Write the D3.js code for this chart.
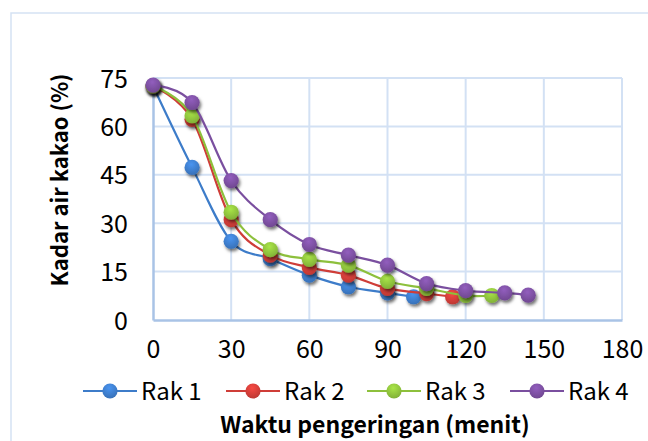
<!DOCTYPE html>
<html>
<head>
<meta charset="utf-8">
<script src="https://cdn.jsdelivr.net/npm/d3@7"></script>
<style>
  body { margin: 0; background: #fff; }
  text { font-family: "Noto Sans CJK JP", "Noto Sans", sans-serif; fill: #000; }
</style>
</head>
<body>
<div id="chart"></div>
<script>
// Drying time (menit) and moisture content (%) per rack
var seriesNames = ["Rak 1", "Rak 2", "Rak 3", "Rak 4"];
var seriesColors = ["#3d7cc9", "#cf3d38", "#8dc03c", "#7a4f9f"];
var timeRak1 = [0, 15, 30, 45, 60, 75, 90, 100];
var rak1 = [72.5, 47.3, 24.4, 19.0, 13.9, 10.3, 8.4, 7.2];
var timeRak2 = [0, 15, 30, 45, 60, 75, 90, 105, 115];
var rak2 = [72.5, 62.2, 31.1, 20.1, 16.3, 13.9, 9.8, 8.2, 7.2];
var timeRak3 = [0, 15, 30, 45, 60, 75, 90, 105, 120, 130];
var rak3 = [72.5, 63.3, 33.4, 21.8, 18.8, 17.0, 12.0, 9.8, 7.6, 7.6];
var timeRak4 = [0, 15, 30, 45, 60, 75, 90, 105, 120, 135, 144];
var rak4 = [72.8, 67.4, 43.2, 31.1, 23.4, 20.1, 17.0, 11.3, 9.1, 8.4, 7.7];
var xTicks = [0, 30, 60, 90, 120, 150, 180];
var yTicks = [0, 15, 30, 45, 60, 75];

var times = [timeRak1, timeRak2, timeRak3, timeRak4];
var values = [rak1, rak2, rak3, rak4];

var W = 648, H = 441;
var margin = {top: 78, right: 26, bottom: 121, left: 153},
    width = W - margin.left - margin.right,
    height = H - margin.top - margin.bottom;

var root = d3.select("#chart").append("svg")
    .attr("width", W)
    .attr("height", H);

// outer chart frame (cut off at right and bottom)
root.append("rect")
  .attr("x", 11).attr("y", 13)
  .attr("width", 700).attr("height", 500)
  .attr("fill", "none")
  .attr("stroke", "#d5e2f4")
  .attr("stroke-width", 1.5);

var defs = root.append("defs");
var shadow = defs.append("filter").attr("id", "shadow")
  .attr("x", "-50%").attr("y", "-50%").attr("width", "200%").attr("height", "200%");
shadow.append("feDropShadow")
  .attr("dx", 1.5).attr("dy", 2.5).attr("stdDeviation", 1.6)
  .attr("flood-color", "#000").attr("flood-opacity", 0.55);

seriesColors.forEach(function(c, i) {
  var g = defs.append("radialGradient").attr("id", "grad" + i)
    .attr("cx", "45%").attr("cy", "30%").attr("r", "70%");
  g.append("stop").attr("offset", "0%").attr("stop-color", d3.color(c).brighter(0.5));
  g.append("stop").attr("offset", "100%").attr("stop-color", d3.color(c).darker(0.25));
});

var svg = root.append("g")
    .attr("transform", `translate(${margin.left},${margin.top})`);

var x = d3.scaleLinear().domain([0, 180]).range([0, width]);
var y = d3.scaleLinear().domain([0, 75]).range([height, 0]);

// grid
svg.selectAll(".vgrid").data(xTicks.slice(1)).enter().append("line")
  .attr("x1", d => x(d)).attr("x2", d => x(d))
  .attr("y1", 0).attr("y2", height)
  .attr("stroke", "#d3e1f4").attr("stroke-width", 2);
svg.selectAll(".hgrid").data(yTicks.slice(1)).enter().append("line")
  .attr("x1", 0).attr("x2", width)
  .attr("y1", d => y(d)).attr("y2", d => y(d))
  .attr("stroke", "#d3e1f4").attr("stroke-width", 2);

// axes
var xAxis = svg.append("g")
  .attr("transform", `translate(0,${height})`)
  .call(d3.axisBottom(x).tickValues(xTicks).tickSize(0).tickPadding(20));
var yAxis = svg.append("g")
  .call(d3.axisLeft(y).tickValues(yTicks).tickSize(0).tickPadding(25));
[xAxis, yAxis].forEach(function(a) {
  a.select(".domain").attr("stroke", "#a9c3e6").attr("stroke-width", 2.5);
  a.selectAll("text").style("font-size", "25px")
    .style("font-family", "'Noto Sans CJK JP', 'Noto Sans', sans-serif");
});
xAxis.selectAll("text").attr("dy", "0.72em");
yAxis.selectAll("text").attr("dy", "0.36em");

// lines and markers
var line = d3.line()
  .x(d => x(d[0]))
  .y(d => y(d[1]))
  .curve(d3.curveCatmullRom.alpha(0));

seriesNames.forEach(function(name, i) {
  var pts = times[i].map((t, j) => [t, values[i][j]]);
  var g = svg.append("g");
  g.append("path")
    .datum(pts)
    .attr("fill", "none")
    .attr("stroke", seriesColors[i])
    .attr("stroke-width", 2.2)
    .attr("d", line);
  g.selectAll("circle").data(pts).enter().append("circle")
    .attr("cx", d => x(d[0]))
    .attr("cy", d => y(d[1]))
    .attr("r", 7.6)
    .attr("fill", "url(#grad" + i + ")")
    .attr("filter", "url(#shadow)");
});

// axis titles
root.append("text")
  .attr("transform", "translate(68,180) rotate(-90)")
  .attr("text-anchor", "middle")
  .style("font-size", "22px")
  .style("font-weight", "bold")
  .text("Kadar air kakao (%)");

root.append("text")
  .attr("x", 375).attr("y", 433)
  .attr("text-anchor", "middle")
  .style("font-size", "23px")
  .style("font-weight", "bold")
  .text("Waktu pengeringan (menit)");

// legend
var legendX = [83, 226, 367, 510];
var legend = root.selectAll(".legend").data(seriesNames).enter().append("g")
  .attr("class", "legend")
  .attr("transform", (d, i) => `translate(${legendX[i]},391)`);
legend.append("line")
  .attr("x1", 0).attr("x2", 54)
  .attr("stroke", (d, i) => seriesColors[i]).attr("stroke-width", 2.2);
legend.append("circle")
  .attr("cx", 27).attr("r", 7.6)
  .attr("fill", (d, i) => "url(#grad" + i + ")");
legend.append("text")
  .attr("x", 58).attr("y", 0).attr("dy", "0.36em")
  .style("font-size", "24px")
  .text(d => d);
</script>
</body>
</html>
